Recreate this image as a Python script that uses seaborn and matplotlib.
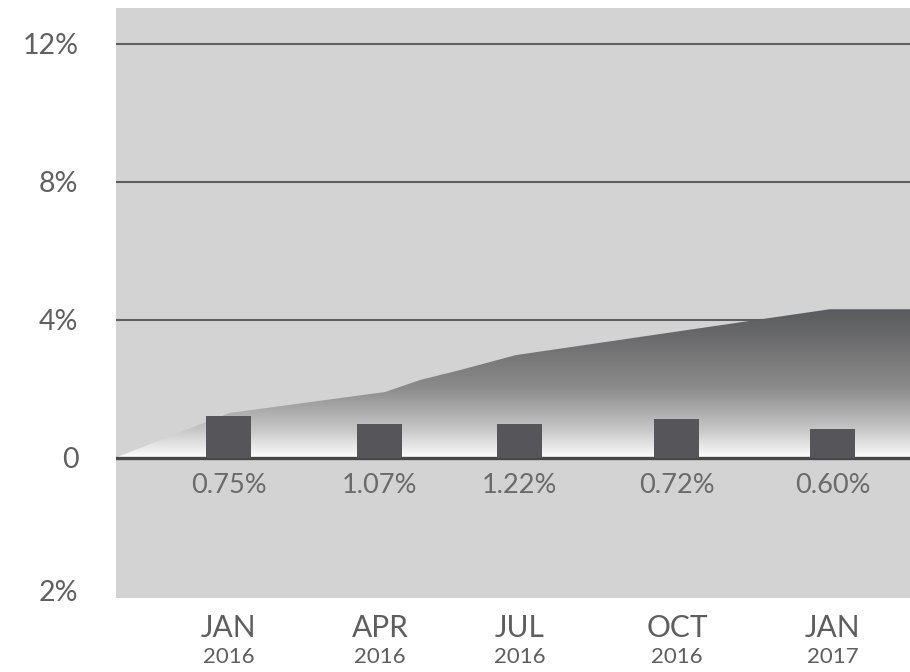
import numpy as np
import pandas as pd
import matplotlib
matplotlib.use("Agg")
import matplotlib.pyplot as plt
import seaborn as sns
from matplotlib.colors import LinearSegmentedColormap

# ---- data ----
months = ["JAN", "APR", "JUL", "OCT", "JAN"]
years = ["2016", "2016", "2016", "2016", "2017"]
bar_x = [0.0, 3.0, 5.78, 8.9, 12.0]          # months since Jan 2016, as drawn
bar_values = [1.21, 0.97, 0.97, 1.12, 0.82]   # bar heights (%)
bar_labels = ["0.75%", "1.07%", "1.22%", "0.72%", "0.60%"]

area_x = [-2.25, 0.0, 3.1, 3.8, 4.6, 5.7, 11.94, 13.6]
area_values = [0.0, 1.29, 1.90, 2.25, 2.54, 2.97, 4.30, 4.30]

y_ticks = [12, 8, 4, 0, -3.84]
y_ticklabels = ["12%", "8%", "4%", "0", "2%"]
grid_levels = [12, 8, 4]

# ---- style ----
sns.set_theme(style="white")
plt.rcParams["font.family"] = ["Lato", "DejaVu Sans"]

fig = plt.figure(figsize=(9.1, 6.72), dpi=100)
ax = fig.add_axes([116 / 910, 1 - 598 / 672, 794 / 910, 590 / 672])
ax.set_facecolor("#d3d3d3")
XL = (-2.245, 13.53)
YL = (-4.07, 13.03)

for g in grid_levels:
    ax.axhline(g, color="#5f5f5f", lw=1.5, zorder=1)

# gradient area
poly = ax.fill_between(area_x, area_values, 0, facecolor="none",
                       edgecolor="none", zorder=2)
vmax = max(area_values)
anchors = [(0.0, "#ffffff"), (0.2 / vmax, "#f0f0f0"), (0.8 / vmax, "#c8c8c8"),
           (2.0 / vmax, "#8c8c8c"), (3.7 / vmax, "#666668"), (1.0, "#5a5b5e")]
cmap = LinearSegmentedColormap.from_list("area", anchors)
grad = np.linspace(0, 1, 512).reshape(-1, 1)
im = ax.imshow(grad, extent=[XL[0], XL[1], 0, vmax], origin="lower",
               aspect="auto", cmap=cmap, zorder=2, interpolation="bilinear")
im.set_clip_path(poly.get_paths()[0], ax.transData)

ax.axhline(0, color="#474747", lw=2.4, zorder=3)

df = pd.DataFrame({"x": bar_x, "v": bar_values})
sns.barplot(data=df, x="x", y="v", native_scale=True,
            width=0.894 / np.min(np.diff(bar_x)), color="#56565a",
            saturation=1, errorbar=None, ax=ax, zorder=4, linewidth=0)

ax.set_xlim(*XL)
ax.set_ylim(*YL)
ax.set_xlabel("")
ax.set_ylabel("")
ax.set_xticks([])
ax.set_yticks(y_ticks, y_ticklabels)
ax.tick_params(axis="y", length=0, pad=27, labelsize=20.5, labelcolor="#606060")
for s in ax.spines.values():
    s.set_visible(False)

for x, lab in zip(bar_x, bar_labels):
    ax.text(x, -0.8, lab, ha="center", va="center", fontsize=19.5,
            color="#6a6a6a", zorder=5)

tr = ax.get_xaxis_transform()
for x, m, yr in zip(bar_x, months, years):
    ax.text(x, -0.051, m, transform=tr, ha="center", va="center",
            fontsize=21.5, color="#5e5e5e", clip_on=False)
    ax.text(x, -0.1, yr, transform=tr, ha="center", va="center",
            fontsize=16, color="#5e5e5e", clip_on=False)

fig.savefig("out.png", dpi=100)
